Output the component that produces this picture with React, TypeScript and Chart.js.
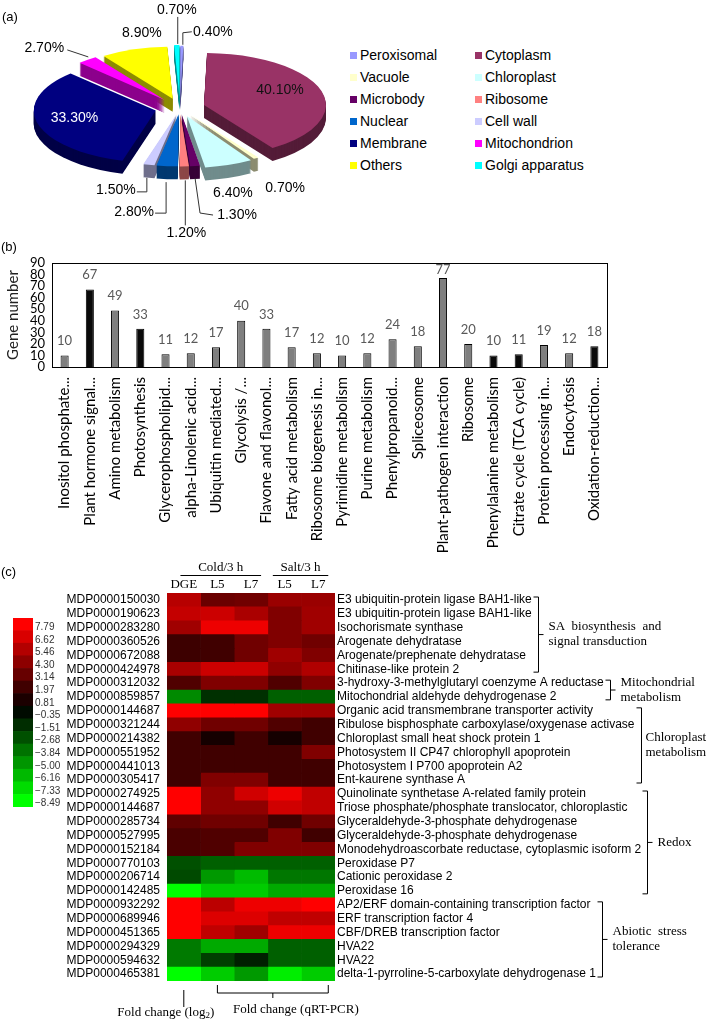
import React, { useEffect, useRef } from 'react';
import { Chart, registerables } from 'chart.js';

Chart.register(...registerables);

const SANS = '"Liberation Sans", Arial, sans-serif';
const SERIF = '"Liberation Serif", "Times New Roman", serif';
const LATO = 'Lato, "Open Sans", sans-serif';

// ---------- (a) subcellular localisation ----------
const LOCATIONS = ['Peroxisomal', 'Cytoplasm', 'Vacuole', 'Chloroplast', 'Microbody', 'Ribosome', 'Nuclear', 'Cell wall', 'Membrane', 'Mitochondrion', 'Others', 'Golgi apparatus'];
const LOCATION_PERCENT = [0.4, 40.1, 0.7, 6.4, 1.3, 1.2, 2.8, 1.5, 33.3, 2.7, 8.9, 0.7];
const LOCATION_COLORS = ['#9999ff', '#993366', '#ffffcc', '#ccffff', '#660066', '#ff8080', '#0066cc', '#ccccff', '#000080', '#ff00ff', '#ffff00', '#00ffff'];

// style: explode distance of each slice, and label offset from the slice's outer edge
const SLICE_EXPLODE = [24, 25, 18, 20, 15, 15, 15, 15, 25, 24, 23, 26];
const PIE_DEPTH = 13;
const SLICE_LABEL: { dx: number; dy: number; color?: string; leader?: number[][] }[] = [
  { dx: 31, dy: -14, leader: [[10, -14], [1, -13], [1, -1]] },
  { dx: -41, dy: 0, color: '#111' },
  { dx: 29, dy: 30 },
  { dx: 4, dy: 28 },
  { dx: 42, dy: 49, leader: [[0, 12], [5, 47], [18, 49]] },
  { dx: 2, dy: 67, leader: [[1, 14], [1, 59]] },
  { dx: -33, dy: 46, leader: [[-12, 47], [-1, 47], [-1, 16]] },
  { dx: -33, dy: 25, leader: [[-12, 27], [-2, 27], [-2, 13]] },
  { dx: 37, dy: -5, color: '#fff' },
  { dx: -43, dy: -12, leader: [[-20, -10], [1, -3]] },
  { dx: 8, dy: -16 },
  { dx: 0, dy: -35, leader: [[1, -28], [1, -1]] },
];

// ---------- (b) KEGG pathways ----------
const PATHWAYS = ['Inositol phosphate...', 'Plant hormone signal...', 'Amino metabolism', 'Photosynthesis', 'Glycerophospholipid...', 'alpha-Linolenic acid...', 'Ubiquitin mediated...', 'Glycolysis /...', 'Flavone and flavonol...', 'Fatty acid metabolism', 'Ribosome biogenesis in...', 'Pyrimidine metabolism', 'Purine metabolism', 'Phenylpropanoid...', 'Spliceosome', 'Plant-pathogen interaction', 'Ribosome', 'Phenylalanine metabolism', 'Citrate cycle (TCA cycle)', 'Protein processing in...', 'Endocytosis', 'Oxidation-reduction...'];
const GENE_COUNTS = [10, 67, 49, 33, 11, 12, 17, 40, 33, 17, 12, 10, 12, 24, 18, 77, 20, 10, 11, 19, 12, 18];
const HIGHLIGHTED = [false, true, false, true, false, false, false, false, false, false, false, false, false, false, false, false, false, true, true, false, false, true];
const Y_MAX = 90;
const Y_STEP = 10;

// ---------- (c) heatmap ----------
const COLORBAR_VALUES = [7.79, 6.62, 5.46, 4.30, 3.14, 1.97, 0.81, -0.35, -1.51, -2.68, -3.84, -5.00, -6.16, -7.33, -8.49];
const CONDITIONS = ['DGE', 'L5', 'L7', 'L5', 'L7'];
const CONDITION_GROUPS = [
  { text: 'Cold/3 h', from: 0.4, to: 2.8 },
  { text: 'Salt/3 h', from: 3.15, to: 4.8 },
];
const GENE_IDS = ['MDP0000150030', 'MDP0000190623', 'MDP0000283280', 'MDP0000360526', 'MDP0000672088', 'MDP0000424978', 'MDP0000312032', 'MDP0000859857', 'MDP0000144687', 'MDP0000321244', 'MDP0000214382', 'MDP0000551952', 'MDP0000441013', 'MDP0000305417', 'MDP0000274925', 'MDP0000144687', 'MDP0000285734', 'MDP0000527995', 'MDP0000152184', 'MDP0000770103', 'MDP0000206714', 'MDP0000142485', 'MDP0000932292', 'MDP0000689946', 'MDP0000451365', 'MDP0000294329', 'MDP0000594632', 'MDP0000465381'];
const GENE_NAMES = ['E3 ubiquitin-protein ligase BAH1-like', 'E3 ubiquitin-protein ligase BAH1-like', 'Isochorismate synthase', 'Arogenate dehydratase', 'Arogenate/prephenate dehydratase', 'Chitinase-like protein 2', '3-hydroxy-3-methylglutaryl coenzyme A reductase', 'Mitochondrial aldehyde dehydrogenase 2', 'Organic acid transmembrane transporter activity', 'Ribulose bisphosphate carboxylase/oxygenase activase', 'Chloroplast small heat shock protein 1', 'Photosystem II CP47 chlorophyll apoprotein', 'Photosystem I P700 apoprotein A2', 'Ent-kaurene synthase A', 'Quinolinate synthetase A-related family protein', 'Triose phosphate/phosphate translocator, chloroplastic', 'Glyceraldehyde-3-phosphate dehydrogenase', 'Glyceraldehyde-3-phosphate dehydrogenase', 'Monodehydroascorbate reductase, cytoplasmic isoform 2', 'Peroxidase P7', 'Cationic peroxidase 2', 'Peroxidase 16', 'AP2/ERF domain-containing transcription factor', 'ERF transcription factor 4', 'CBF/DREB transcription factor', 'HVA22', 'HVA22', 'delta-1-pyrroline-5-carboxylate dehydrogenase 1'];
const FC_DGE = [5.6, 6.0, 4.89, 1.85, 1.85, 5.13, 2.44, -4.6, 7.79, 4.4, 1.96, 1.96, 1.96, 1.96, 7.79, 7.79, 2.93, 2.27, 2.27, -2.66, -2.46, -8.49, 7.79, 7.79, 7.79, -4.06, -4.06, -8.49];
const FC_COLD_L5 = [3.24, 6.23, 7.27, 1.96, 1.96, 6.23, 3.91, -1.6, 7.79, 3.42, 0.64, 1.96, 1.96, 3.91, 4.4, 4.4, 3.42, 2.44, 2.44, -3.2, -5.09, -6.79, 5.71, 6.75, 5.87, -5.66, -2.13, -6.79];
const FC_COLD_L7 = [3.42, 5.2, 7.27, 3.42, 3.42, 6.23, 3.91, -1.6, 7.79, 3.42, 1.96, 1.96, 1.96, 3.91, 6.35, 4.4, 3.42, 2.44, 3.91, -3.2, -6.23, -6.79, 7.27, 6.75, 4.89, -5.66, -1.07, -5.09];
const FC_SALT_L5 = [4.7, 3.91, 3.91, 3.91, 4.89, 4.4, 2.44, -3.2, 4.89, 2.44, 0.64, 1.96, 1.96, 1.96, 7.27, 6.35, 1.96, 3.91, 3.91, -3.2, -3.96, -5.66, 7.27, 5.87, 7.27, -3.2, -3.2, -7.92];
const FC_SALT_L7 = [4.7, 4.89, 4.89, 3.42, 3.91, 5.38, 3.91, -3.2, 4.89, 1.96, 1.96, 3.91, 1.96, 1.96, 5.87, 5.87, 3.42, 1.96, 3.91, -3.2, -3.96, -5.66, 7.79, 5.87, 7.27, -3.2, -3.2, -6.79];
const FC_COLUMNS = [FC_DGE, FC_COLD_L5, FC_COLD_L7, FC_SALT_L5, FC_SALT_L7];
const GENE_GROUPS = [
  { lines: ['SA  biosynthesis  and', 'signal transduction'], first: 0, last: 5, tick: true },
  { lines: ['Mitochondrial', 'metabolism'], first: 6, last: 7, tick: true },
  { lines: ['Chloroplast', 'metabolism'], first: 8, last: 13, tick: false },
  { lines: ['Redox'], first: 14, last: 21, tick: true },
  { lines: ['Abiotic  stress', 'tolerance'], first: 22, last: 27, tick: true },
];

const FC_MAX = COLORBAR_VALUES[0];
const FC_MIN = COLORBAR_VALUES[COLORBAR_VALUES.length - 1];
function fcColor(v: number) {
  if (v >= 0) return `rgb(${Math.round(Math.min(1, v / FC_MAX) * 255)},0,0)`;
  return `rgb(0,${Math.round(Math.min(1, v / FC_MIN) * 255)},0)`;
}
function shade(hex: string, f: number) {
  const n = parseInt(hex.slice(1), 16);
  const r = (n >> 16) & 255, g = (n >> 8) & 255, b = n & 255;
  return `rgb(${Math.round(r * f)},${Math.round(g * f)},${Math.round(b * f)})`;
}

const pie3d = {
  id: 'pie3d',
  beforeDatasetsDraw() { return false; },
  afterDraw(chart: any) {
    const { ctx, chartArea: a } = chart;
    const cx = (a.left + a.right) / 2, cy = (a.top + a.bottom) / 2;
    const R = (a.right - a.left) / 2, ry = (a.bottom - a.top) / 2, k = ry / R;
    const arcs = chart.getDatasetMeta(0).data;
    const slices = arcs.map((arc: any, i: number) => {
      const s = arc.startAngle, e = arc.endAngle, mid = (s + e) / 2, ex = SLICE_EXPLODE[i];
      return { i, s, e, mid, ox: cx + Math.cos(mid) * ex, oy: cy + Math.sin(mid) * ex * k };
    });
    const path = (sl: any, dy: number) => {
      ctx.beginPath();
      ctx.moveTo(sl.ox, sl.oy + dy);
      ctx.ellipse(sl.ox, sl.oy + dy, R, ry, 0, sl.s, sl.e, false);
      ctx.closePath();
    };
    ctx.save();
    [...slices].sort((p: any, q: any) => Math.sin(p.mid) - Math.sin(q.mid)).forEach((sl: any) => {
      ctx.fillStyle = shade(LOCATION_COLORS[sl.i], 0.55);
      for (let d = PIE_DEPTH; d >= 1; d--) { path(sl, d); ctx.fill(); }
      path(sl, 0);
      ctx.fillStyle = LOCATION_COLORS[sl.i];
      ctx.fill();
    });
    ctx.font = `14px ${SANS}`;
    ctx.textAlign = 'center';
    ctx.textBaseline = 'middle';
    ctx.strokeStyle = '#333';
    ctx.lineWidth = 1;
    slices.forEach((sl: any) => {
      const ax = sl.ox + R * Math.cos(sl.mid), ay = sl.oy + ry * Math.sin(sl.mid);
      const lab = SLICE_LABEL[sl.i];
      if (lab.leader) {
        ctx.beginPath();
        lab.leader.forEach(([dx, dy], j) => (j ? ctx.lineTo(ax + dx, ay + dy) : ctx.moveTo(ax + dx, ay + dy)));
        ctx.stroke();
      }
      ctx.fillStyle = lab.color || '#000';
      ctx.fillText(LOCATION_PERCENT[sl.i].toFixed(2) + '%', ax + lab.dx, ay + lab.dy);
    });
    ctx.restore();
  },
};

const barDecor = {
  id: 'barDecor',
  afterDatasetsDraw(chart: any) {
    const { ctx, chartArea: a } = chart;
    const meta = chart.getDatasetMeta(0);
    ctx.save();
    ctx.font = `13px ${LATO}`;
    ctx.fillStyle = '#595959';
    ctx.textAlign = 'center';
    ctx.textBaseline = 'bottom';
    meta.data.forEach((bar: any, i: number) => {
      const yy = Math.max(bar.y - 8, a.top + 13);
      ctx.fillText(String(GENE_COUNTS[i]), bar.x, yy);
    });
    ctx.strokeStyle = '#000';
    ctx.lineWidth = 1;
    ctx.strokeRect(Math.round(a.left) + 0.5, Math.round(a.top) + 0.5, Math.round(a.right - a.left), Math.round(a.bottom - a.top));
    ctx.restore();
  },
};

const heatDecor = {
  id: 'heatDecor',
  afterDraw(chart: any) {
    const { ctx, chartArea: a, scales } = chart;
    const x = scales.x, y = scales.y;
    const rowH = y.getPixelForValue(1) - y.getPixelForValue(0);
    ctx.save();
    ctx.strokeStyle = '#000';
    ctx.fillStyle = '#000';
    ctx.lineWidth = 1;
    ctx.font = `13px ${SERIF}`;
    ctx.textAlign = 'center';
    ctx.textBaseline = 'middle';
    CONDITION_GROUPS.forEach((g) => {
      const x0 = x.getPixelForValue(g.from), x1 = x.getPixelForValue(g.to);
      ctx.beginPath();
      ctx.moveTo(x0, a.top - 17.5);
      ctx.lineTo(x1, a.top - 17.5);
      ctx.stroke();
      ctx.fillText(g.text, (x0 + x1) / 2, a.top - 25);
    });
    // right-hand group brackets
    GENE_GROUPS.forEach((g) => {
      ctx.font = `12px ${SANS}`;
      let w = 0;
      for (let r = g.first; r <= g.last; r++) w = Math.max(w, ctx.measureText(GENE_NAMES[r]).width);
      const bx = Math.round(a.right + 2 + w + 6) + 0.5;
      const yT = y.getPixelForValue(g.first) - rowH / 2 + 4;
      const yB = y.getPixelForValue(g.last) + rowH / 2 - 4;
      const ym = (yT + yB) / 2;
      ctx.beginPath();
      ctx.moveTo(bx - 5, yT);
      ctx.lineTo(bx, yT);
      ctx.lineTo(bx, yB);
      ctx.lineTo(bx - 5, yB);
      if (g.tick) { ctx.moveTo(bx, ym); ctx.lineTo(bx + 5, ym); }
      ctx.stroke();
      ctx.font = `13px ${SERIF}`;
      ctx.textAlign = 'left';
      g.lines.forEach((t, j) => ctx.fillText(t, bx + (g.tick ? 10 : 4), ym + (j - (g.lines.length - 1) / 2) * 15));
    });
    // bottom annotations
    const b = a.bottom;
    const xd = x.getPixelForValue(0.5);
    ctx.beginPath();
    ctx.moveTo(xd, b + 9);
    ctx.lineTo(xd, b + 26);
    ctx.stroke();
    const p1 = 'Fold change (log', p2 = '2', p3 = ')';
    ctx.font = `13px ${SERIF}`;
    const w1 = ctx.measureText(p1).width, w3 = ctx.measureText(p3).width;
    ctx.font = `9px ${SERIF}`;
    const w2 = ctx.measureText(p2).width;
    const tx = xd - 18 - (w1 + w2 + w3) / 2;
    ctx.textAlign = 'left';
    ctx.font = `13px ${SERIF}`;
    ctx.fillText(p1, tx, b + 32);
    ctx.font = `9px ${SERIF}`;
    ctx.fillText(p2, tx + w1, b + 35);
    ctx.font = `13px ${SERIF}`;
    ctx.fillText(p3, tx + w1 + w2, b + 32);
    const q0 = x.getPixelForValue(1.5), q1 = x.getPixelForValue(4.8), qm = (q0 + q1) / 2;
    ctx.beginPath();
    ctx.moveTo(q0, b + 4);
    ctx.lineTo(q0, b + 12);
    ctx.lineTo(q1, b + 12);
    ctx.lineTo(q1, b + 4);
    ctx.moveTo(qm, b + 12);
    ctx.lineTo(qm, b + 17);
    ctx.stroke();
    ctx.textAlign = 'center';
    ctx.fillText('Fold change (qRT-PCR)', qm + 23, b + 29);
    ctx.restore();
  },
};

export default function App() {
  const pieRef = useRef<HTMLCanvasElement>(null);
  const barRef = useRef<HTMLCanvasElement>(null);
  const heatRef = useRef<HTMLCanvasElement>(null);
  const scaleRef = useRef<HTMLCanvasElement>(null);

  useEffect(() => {
    Chart.defaults.font.family = SANS;
    Chart.defaults.color = '#000';
    const charts: Chart[] = [];

    charts.push(new Chart(pieRef.current!, {
      type: 'pie',
      data: { labels: LOCATIONS, datasets: [{ data: LOCATION_PERCENT, backgroundColor: LOCATION_COLORS, borderWidth: 0 }] },
      options: {
        responsive: false, animation: false, devicePixelRatio: 1, events: [],
        layout: { padding: { left: 58, right: 43, top: 56, bottom: 90 } },
        plugins: { legend: { display: false }, tooltip: { enabled: false } },
      },
      plugins: [pie3d],
    } as any));

    charts.push(new Chart(barRef.current!, {
      type: 'bar',
      data: {
        labels: PATHWAYS,
        datasets: [{
          data: GENE_COUNTS,
          backgroundColor: HIGHLIGHTED.map((h) => (h ? '#0a0a0a' : '#7f7f7f')),
          borderColor: '#000', borderWidth: 1, barPercentage: 0.32, categoryPercentage: 1,
        }],
      },
      options: {
        responsive: false, animation: false, devicePixelRatio: 1, events: [],
        layout: { padding: { top: 27, right: 102, left: 0, bottom: 0 } },
        plugins: { legend: { display: false }, tooltip: { enabled: false } },
        scales: {
          x: {
            grid: { display: false, drawTicks: false }, border: { display: false },
            ticks: { autoSkip: false, maxRotation: 90, minRotation: 90, padding: 10, color: '#000', font: { family: LATO, size: 15 } },
            afterFit: (s: any) => { s.height = 193; },
          },
          y: {
            min: 0, max: Y_MAX,
            grid: { display: false, drawTicks: false }, border: { display: false },
            ticks: { stepSize: Y_STEP, autoSkip: false, color: '#000', padding: 7, font: { family: LATO, size: 13 } },
            title: { display: true, text: 'Gene number', color: '#222', font: { family: LATO, size: 15 }, padding: { top: 4, bottom: 0 } },
            afterFit: (s: any) => { s.width = 52; },
          },
        },
      },
      plugins: [barDecor],
    } as any));

    charts.push(new Chart(heatRef.current!, {
      type: 'bar',
      data: {
        labels: GENE_IDS,
        datasets: FC_COLUMNS.map((col, c) => ({
          data: col.map(() => [c, c + 1]),
          backgroundColor: col.map(fcColor),
          grouped: false, barPercentage: 1, categoryPercentage: 1, borderWidth: 0,
        })),
      },
      options: {
        indexAxis: 'y', responsive: false, animation: false, devicePixelRatio: 1, events: [],
        layout: { padding: { top: 0, bottom: 39, left: 0, right: 0 } },
        plugins: { legend: { display: false }, tooltip: { enabled: false } },
        scales: {
          x: {
            type: 'linear', position: 'top', min: 0, max: CONDITIONS.length,
            afterBuildTicks: (s: any) => { s.ticks = CONDITIONS.map((_, i) => ({ value: i + 0.5 })); },
            ticks: { callback: (_v: any, i: number) => CONDITIONS[i], color: '#000', padding: 1, autoSkip: false, maxRotation: 0, font: { family: SERIF, size: 13 } },
            grid: { display: false, drawTicks: false }, border: { display: false },
            afterFit: (s: any) => { s.height = 33; },
          },
          y: {
            type: 'category', position: 'left', offset: true,
            ticks: { color: '#000', padding: 7, autoSkip: false, font: { family: SANS, size: 12 } },
            grid: { display: false, drawTicks: false }, border: { display: false },
            afterFit: (s: any) => { s.width = 167; },
          },
          y2: {
            type: 'category', position: 'right', offset: true, labels: GENE_NAMES,
            ticks: { color: '#000', padding: 2, autoSkip: false, font: { family: SANS, size: 12 } },
            grid: { display: false, drawTicks: false }, border: { display: false },
            afterFit: (s: any) => { s.width = 374; },
          },
        },
      },
      plugins: [heatDecor],
    } as any));

    charts.push(new Chart(scaleRef.current!, {
      type: 'bar',
      data: {
        labels: COLORBAR_VALUES.map((v) => v.toFixed(2).replace('-', '\u2212')),
        datasets: [{ data: COLORBAR_VALUES.map(() => [0, 1]), backgroundColor: COLORBAR_VALUES.map(fcColor), barPercentage: 1, categoryPercentage: 1, borderWidth: 0 }],
      },
      options: {
        indexAxis: 'y', responsive: false, animation: false, devicePixelRatio: 1, events: [],
        layout: { padding: { left: 13, top: 7, bottom: 8, right: 0 } },
        plugins: { legend: { display: false }, tooltip: { enabled: false } },
        scales: {
          x: { type: 'linear', min: 0, max: 1, display: false },
          y: {
            position: 'right', offset: true,
            grid: { display: false, drawTicks: false }, border: { display: false },
            ticks: { color: '#333', padding: 2, labelOffset: 3, autoSkip: false, font: { family: SANS, size: 10 } },
            afterFit: (s: any) => { s.width = 37; },
          },
        },
      },
    } as any));

    return () => charts.forEach((c) => c.destroy());
  }, []);

  const abs = (left: number, top: number, extra: any = {}) => ({ position: 'absolute' as const, left, top, ...extra });

  return (
    <div style={{ position: 'absolute', left: 0, top: 0, width: 709, height: 1020, background: '#fff', fontFamily: SANS, color: '#000', overflow: 'hidden' }}>
      <canvas ref={pieRef} width={345} height={250} style={abs(0, 0, { display: 'block' })} />
      <canvas ref={barRef} width={709} height={324} style={abs(0, 236, { display: 'block' })} />
      <canvas ref={heatRef} width={709} height={460} style={abs(0, 560, { display: 'block' })} />
      <canvas ref={scaleRef} width={70} height={205} style={abs(0, 610, { display: 'block' })} />
      <div style={abs(2, 9, { fontSize: 13, lineHeight: '16px' })}>(a)</div>
      <div style={abs(1, 239, { fontSize: 13, lineHeight: '16px' })}>(b)</div>
      <div style={abs(1, 564, { fontSize: 13, lineHeight: '16px' })}>(c)</div>
      {LOCATIONS.map((name, i) => {
        const col = i % 2, row = Math.floor(i / 2);
        const left = col ? 475 : 350, cyy = 55 + row * 22;
        return (
          <div key={name}>
            <div style={abs(left, cyy - 3.5, { width: 7, height: 7, background: LOCATION_COLORS[i] })} />
            <div style={abs(left + 10, cyy - 9, { fontSize: 14, lineHeight: '18px', whiteSpace: 'nowrap' })}>{name}</div>
          </div>
        );
      })}
    </div>
  );
}
